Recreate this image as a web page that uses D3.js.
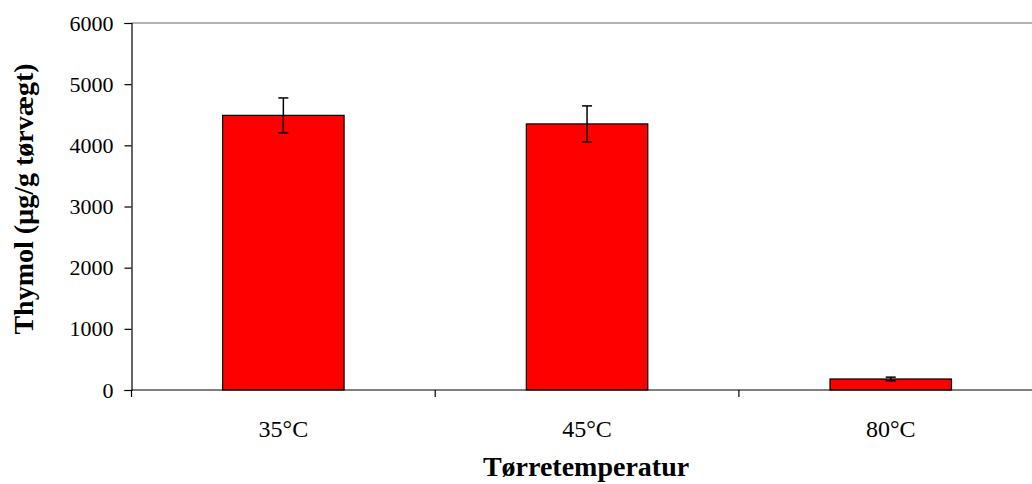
<!DOCTYPE html>
<html><head><meta charset="utf-8">
<script src="https://cdn.jsdelivr.net/npm/d3@7"></script>
<style>body{margin:0;background:#fff}svg{display:block}text{font-family:"Liberation Serif","Times New Roman",serif;fill:#000}</style>
</head><body><svg id="c" width="1032" height="484"></svg>
<script>
const categories = ["35°C", "45°C", "80°C"];
const values = [4490, 4350, 180];
const errors = [285, 295, 30];
const yTicks = [0, 1000, 2000, 3000, 4000, 5000, 6000];
const yTitle = "Thymol (µg/g tørvægt)";
const xTitle = "Tørretemperatur";

const svg = d3.select("#c");
const m = {l: 131.5, t: 23, b: 390};
const bandW = 303.7;
const x = d3.scaleBand().domain(categories).range([m.l, m.l + bandW * categories.length]).paddingInner(0.6).paddingOuter(0.3);
const y = d3.scaleLinear().domain([0, 6000]).range([m.b, m.t]);

// top border line (gray)
svg.append("line").attr("x1", m.l).attr("x2", 1050).attr("y1", y(6000)).attr("y2", y(6000))
  .attr("stroke", "#999").attr("stroke-width", 1.5);

// bars
svg.selectAll("rect.bar").data(categories).join("rect").attr("class", "bar")
  .attr("x", d => x(d)).attr("width", x.bandwidth())
  .attr("y", (d, i) => y(values[i])).attr("height", (d, i) => y(0) - y(values[i]))
  .attr("fill", "#ff0000").attr("stroke", "#000").attr("stroke-width", 1.2);

// error bars
const eb = svg.selectAll("g.err").data(categories).join("g").attr("class", "err")
  .attr("stroke", "#000").attr("stroke-width", 1.5);
eb.append("line").attr("x1", d => x(d) + x.bandwidth() / 2).attr("x2", d => x(d) + x.bandwidth() / 2)
  .attr("y1", (d, i) => y(values[i] + errors[i])).attr("y2", (d, i) => y(values[i] - errors[i]));
eb.append("line").attr("x1", d => x(d) + x.bandwidth() / 2 - 5).attr("x2", d => x(d) + x.bandwidth() / 2 + 5)
  .attr("y1", (d, i) => y(values[i] + errors[i])).attr("y2", (d, i) => y(values[i] + errors[i]));
eb.append("line").attr("x1", d => x(d) + x.bandwidth() / 2 - 5).attr("x2", d => x(d) + x.bandwidth() / 2 + 5)
  .attr("y1", (d, i) => y(values[i] - errors[i])).attr("y2", (d, i) => y(values[i] - errors[i]));

// y axis
const ya = svg.append("g").attr("transform", `translate(${m.l},0)`)
  .call(d3.axisLeft(y).tickValues(yTicks).tickSize(7).tickPadding(11).tickFormat(d3.format("d")));
ya.select(".domain").attr("stroke", "#000").attr("stroke-width", 1.2);
ya.selectAll(".tick line").attr("stroke", "#000").attr("stroke-width", 1.2);
ya.selectAll(".tick text").style("font-size", "22px").attr("font-family", null);

// x axis
const xa = svg.append("g").attr("transform", `translate(0,${m.b})`)
  .call(d3.axisBottom(x).tickSize(0).tickPadding(30));
xa.select(".domain").remove();
xa.selectAll(".tick text").style("font-size", "24px").attr("font-family", null);
svg.append("line").attr("x1", m.l).attr("x2", 1050).attr("y1", m.b).attr("y2", m.b).attr("stroke", "#000").attr("stroke-width", 1.2);
const bounds = categories.map(c => x(c) - x.step() * x.paddingInner() / 2).concat([x(categories[categories.length-1]) + x.bandwidth() + x.step()*x.paddingInner()/2]);
svg.selectAll("line.xt").data(bounds).join("line").attr("class", "xt")
  .attr("x1", d => d).attr("x2", d => d).attr("y1", m.b).attr("y2", m.b + 7)
  .attr("stroke", "#000").attr("stroke-width", 1.2);

// titles
svg.append("text").attr("x", (m.l + m.l + bandW * 3) / 2 - 1).attr("y", 476).attr("text-anchor", "middle")
  .style("font-size", "28px").style("font-weight", "bold").text(xTitle);
svg.append("text").attr("transform", "translate(33,199) rotate(-90)").attr("text-anchor", "middle")
  .style("font-size", "28px").style("font-weight", "bold").text(yTitle);
</script></body></html>
